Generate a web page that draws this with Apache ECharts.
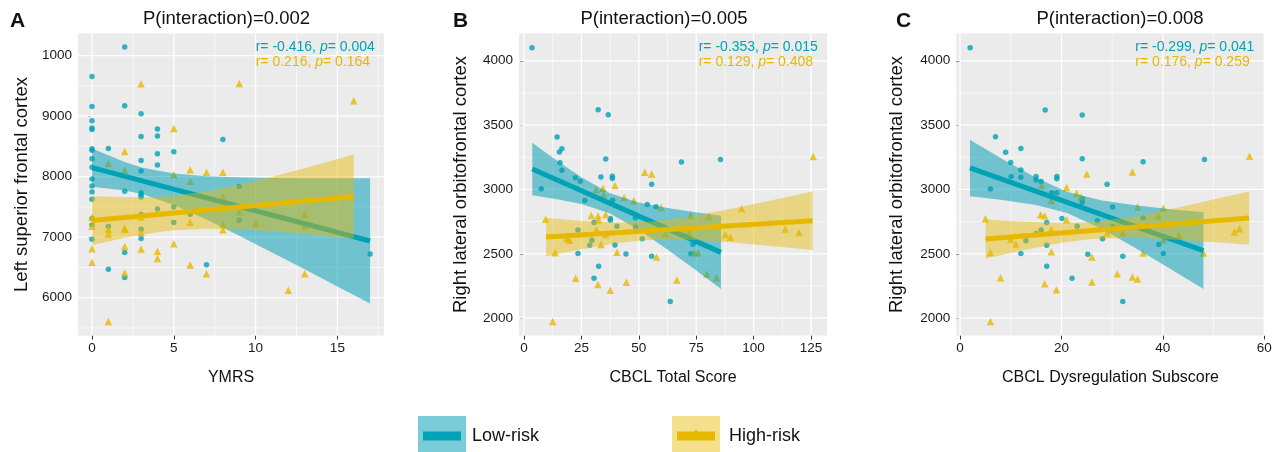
<!DOCTYPE html>
<html><head><meta charset="utf-8">
<script src="https://cdn.jsdelivr.net/npm/echarts@6/dist/echarts.min.js"></script>
<style>html,body{margin:0;padding:0;background:#fff}#c{width:1282px;height:452px}</style>
</head><body><div id="c"></div><script>
// ================= DATA =================
const panelLetters = ['A', 'B', 'C'];
const panelTitles = ['P(interaction)=0.002', 'P(interaction)=0.005', 'P(interaction)=0.008'];
const xNames = ['YMRS', 'CBCL Total Score', 'CBCL Dysregulation Subscore'];
const yNames = ['Left superior frontal cortex', 'Right lateral orbitofrontal cortex', 'Right lateral orbitofrontal cortex'];
const statLow = [['-0.416', '0.004'], ['-0.353', '0.015'], ['-0.299', '0.041']];
const statHigh = [['0.216', '0.164'], ['0.129', '0.408'], ['0.176', '0.259']];
const groupNames = ['Low-risk', 'High-risk'];

const xTicksA = [0, 5, 10, 15];
const xMinorA = [2.5, 7.5, 12.5, 17.5];
const yTicksA = [6000, 7000, 8000, 9000, 10000];
const yTickLabelsA = ['6000', '7000', '8000', '9000', '1000'];
const yMinorA = [5500, 6500, 7500, 8500, 9500];
const xTicksB = [0, 25, 50, 75, 100, 125];
const xMinorB = [12.5, 37.5, 62.5, 87.5, 112.5];
const xTicksC = [0, 20, 40, 60];
const xMinorC = [10, 30, 50];
const yTicksBC = [2000, 2500, 3000, 3500, 4000];
const yTickLabelsBC = ['2000', '2500', '3000', '3500', '4000'];
const yMinorBC = [2250, 2750, 3250, 3750];

// Panel A: YMRS vs left superior frontal cortex
const lowA = [[0,9654],[0,9159],[0,8923],[0,8802],[0,8780],[0,8462],[0,8434],[0,8297],[0,8154],[0,7962],[0,7846],[0,7747],[0,7626],[0,7310],[0,7200],[0,6964],
  [1,8463],[1,7174],[1,6471],[2,10140],[2,9170],[2,7760],[2,6747],[2,6335],
  [3,9038],[3,8662],[3,8266],[3,8093],[3,7733],[3,7700],[3,7665],[3,7375],[3,7132],[3,6978],
  [4,8786],[4,8670],[4,8379],[4,8192],[4,7467],[5,8412],[5,7500],[5,7242],
  [6,7380],[7,6544],[8,8615],[9,7835],[9,7280],[17,6720]];
const highA = [[0,7327],[0,7180],[0,6810],[0,6587],[1,8218],[1,7130],[1,7053],[1,5607],
  [2,8415],[2,8110],[2,7150],[2,7130],[2,6844],[2,6412],[3,9535],[3,7335],[3,7077],[3,6805],
  [4,6769],[4,6648],[5,8797],[5,8033],[5,6890],[6,8113],[6,7923],[6,7247],[6,6538],
  [7,8071],[7,6396],[8,8071],[8,7659],[8,7214],[8,7121],[9,9538],[9,7418],
  [10,7231],[12,6121],[13,7379],[13,7187],[13,6396],[16,9253]];
const fitLowA = [[0, 8148], [17, 6937]];
const fitHighA = [[0, 7274], [16, 7670]];
const bandLowA_x  = [0, 2, 3.1, 5, 7, 9, 11, 13, 15, 17];
const bandLowA_up = [8463, 8240, 8147, 8051, 8008, 7989, 7979, 7974, 7972, 7972];
const bandLowA_lo = [7833, 7771, 7707, 7532, 7290, 7024, 6748, 6468, 6185, 5902];
const bandHighA_x  = [0, 2, 4, 5, 7, 10, 13, 16];
const bandHighA_up = [7680, 7658, 7665, 7684, 7756, 7928, 8138, 8365];
const bandHighA_lo = [6868, 6989, 7081, 7112, 7139, 7116, 7054, 6975];

// Panel B: CBCL total vs right lateral orbitofrontal cortex
const lowB = [[3.5,4101],[7.5,3005],[14.4,3407],[15.4,3292],[15.7,3208],[16.5,3316],[16.5,3150],[22.4,3090],[24.5,3064],[26.5,2914],
  [23.5,2684],[23.5,2502],[30.5,2743],[29.6,2605],[28.6,2567],[32.3,3619],[32.5,2403],[30.5,2310],[33.5,3097],[35.6,3237],
  [36.7,3580],[37.6,2775],[37.6,2761],[38.5,3102],[38.5,3085],[38.6,2917],[39.6,2569],[40.5,2714],[44.4,2499],[48.5,2780],
  [48.6,2708],[51.5,2617],[53.7,2884],[55.6,3040],[55.6,2480],[57.5,2866],[63.7,2130],[68.6,3214],[72.7,2501],[73.6,2574],[85.6,3233]];
const highB = [[9.4,2769],[12.5,1974],[13.5,2508],[18.6,2619],[19.8,2606],[22.5,2310],[29.3,2798],[31.4,3000],[31.6,2689],[32.2,2795],
  [32.4,2764],[32.2,2261],[33.5,2572],[34.4,3010],[34.7,2961],[35.6,2806],[35.6,2650],[37.6,2217],[39.6,3030],[40.5,2512],
  [43.6,2938],[44.6,2278],[47.8,2912],[52.6,3134],[55.6,3120],[57.7,2476],[59.7,2860],[61.6,2655],[66.6,2296],[71.9,2663],
  [72.6,2798],[74.1,2508],[75.8,2508],[79.6,2342],[80.6,2790],[83.8,2313],[87.7,2650],[89.9,2629],[94.8,2852],[113.8,2692],
  [119.8,2666],[126.0,3256]];
const fitLowB = [[3.6, 3159], [85.8, 2511]];
const fitHighB = [[9.6, 2630], [125.7, 2757]];
const bandLowB_x  = [3.6, 15, 25, 37.2, 50, 62, 74, 85.8];
const bandLowB_up = [3363, 3216, 3094, 2972, 2899, 2858, 2825, 2795];
const bandLowB_lo = [2955, 2922, 2887, 2816, 2687, 2539, 2383, 2227];
const bandHighB_x  = [9.6, 25, 40, 53.6, 70, 90, 110, 125.7];
const bandHighB_up = [2779, 2757, 2744, 2748, 2782, 2848, 2923, 2984];
const bandHighB_lo = [2481, 2536, 2582, 2608, 2611, 2589, 2557, 2530];

// Panel C: CBCL dysregulation vs right lateral orbitofrontal cortex
const lowC = [[2,4101],[6,3004],[7,3410],[9,3290],[10,3209],[10.1,3100],[12,3319],[12,3152],[12,3095],[12,2502],[13,2601],
  [15,3100],[15,3074],[15,2658],[16,3061],[16,2684],[16.8,3618],[17.1,2744],[17.1,2567],[17.1,2403],[18.1,2975],
  [19.1,3100],[19.1,3084],[19.1,2975],[20.1,2775],[22.1,2309],[23.1,2715],[24.1,3579],[24.1,3238],[24.1,2926],[24.1,2900],
  [25.2,2497],[27.1,2757],[28.1,2616],[29,3040],[30.1,2863],[30.1,2710],[32.1,2481],[32.1,2130],[36.1,3215],[36.1,2778],
  [39.2,2572],[40.1,2502],[48.2,3233]];
const highC = [[5,2772],[6,2511],[6,1974],[8,2314],[10,2613],[11,2576],[15.9,2804],[16.7,2796],[16.1,3030],[18,2915],
  [18,2687],[16.7,2267],[19,2220],[18,2516],[21,3016],[21,2765],[23,2973],[23.9,2942],[25,3121],[26,2475],[26,2280],
  [29,2661],[31,2345],[32.1,2661],[34,3136],[34,2319],[35,2304],[35,2864],[36.1,2506],[39.1,2791],[40.1,2856],[40.1,2609],
  [43.1,2643],[43.1,2630],[48,2506],[54.1,2669],[55.1,2695],[57.1,3258]];
const fitLowC = [[1.97, 3167], [48, 2524]];
const fitHighC = [[5.05, 2615], [57, 2778]];
const bandLowC_x  = [1.97, 8, 15, 21.1, 28, 35, 42, 48];
const bandLowC_up = [3387, 3245, 3090, 2983, 2914, 2875, 2845, 2822];
const bandLowC_lo = [2947, 2920, 2880, 2817, 2693, 2536, 2370, 2226];
const bandHighC_x  = [5.05, 12, 20, 26.4, 34, 42, 50, 57];
const bandHighC_up = [2767, 2750, 2739, 2747, 2787, 2850, 2921, 2985];
const bandHighC_lo = [2463, 2524, 2585, 2617, 2625, 2611, 2591, 2571];

// ================= LAYOUT / STYLE =================
const TEAL = '#00A2B6', GOLD = '#E7B800';
const TEAL_BAND = 'rgba(0,160,180,0.52)', GOLD_BAND = 'rgba(231,184,0,0.45)';
const FONT = '"Liberation Sans", Arial, sans-serif';
const TOP = 33.5, HEIGHT = 302;
const layout = [
  {left: 78.1, width: 305.9, xMin: -0.85, xMax: 17.85, yMin: 5375, yMax: 10365, titleX: 226.5, letterX: 10, statX: 255.7, yGap: 46.5},
  {left: 518.95, width: 308.1, xMin: -2.2, xMax: 132, yMin: 1865, yMax: 4212, titleX: 664, letterX: 453, statX: 698.7, yGap: 48.5},
  {left: 956.2, width: 308.6, xMin: -0.75, xMax: 60.1, yMin: 1865, yMax: 4212, titleX: 1120, letterX: 896, statX: 1135.3, yGap: 50}
];
const panels = [
  {low: lowA, high: highA, fitL: fitLowA, fitH: fitHighA,
   bandL: [bandLowA_x, bandLowA_up, bandLowA_lo], bandH: [bandHighA_x, bandHighA_up, bandHighA_lo],
   xT: xTicksA, xM: xMinorA, yT: yTicksA, yL: yTickLabelsA, yM: yMinorA},
  {low: lowB, high: highB, fitL: fitLowB, fitH: fitHighB,
   bandL: [bandLowB_x, bandLowB_up, bandLowB_lo], bandH: [bandHighB_x, bandHighB_up, bandHighB_lo],
   xT: xTicksB, xM: xMinorB, yT: yTicksBC, yL: yTickLabelsBC, yM: yMinorBC},
  {low: lowC, high: highC, fitL: fitLowC, fitH: fitHighC,
   bandL: [bandLowC_x, bandLowC_up, bandLowC_lo], bandH: [bandHighC_x, bandHighC_up, bandHighC_lo],
   xT: xTicksC, xM: xMinorC, yT: yTicksBC, yL: yTickLabelsBC, yM: yMinorBC}
];

const grids = [], xAxes = [], yAxes = [], series = [], graphics = [];

function bandSeries(i, band, color, z) {
  const [bx, up, lo] = band;
  const rows = bx.map((x, k) => [x, up[k], lo[k]]);
  return {
    type: 'custom', xAxisIndex: i, yAxisIndex: i, z: z, silent: true,
    data: rows,
    renderItem: function (params, api) {
      if (params.dataIndex !== 0) return null;
      const pts = [];
      for (let k = 0; k < rows.length; k++) pts.push(api.coord([rows[k][0], rows[k][1]]));
      for (let k = rows.length - 1; k >= 0; k--) pts.push(api.coord([rows[k][0], rows[k][2]]));
      return {type: 'polygon', shape: {points: pts}, style: {fill: color, stroke: null}};
    }
  };
}

panels.forEach((p, i) => {
  const L = layout[i];
  grids.push({left: L.left, top: TOP, width: L.width, height: HEIGHT, show: true,
    backgroundColor: '#EBEBEB', borderWidth: 0, containLabel: false, outerBoundsMode: 'none'});
  xAxes.push({
    gridIndex: i, type: 'value', min: L.xMin, max: L.xMax,
    axisLine: {show: false},
    axisTick: {show: true, length: 4, customValues: p.xT, lineStyle: {color: '#333', width: 1}},
    axisLabel: {customValues: p.xT, fontSize: 13.5, fontFamily: FONT, color: '#1a1a1a', margin: 6,
      formatter: v => String(v)},
    splitLine: {show: false},
    name: xNames[i], nameLocation: 'middle', nameGap: 34, nameMoveOverlap: false,
    nameTextStyle: {fontSize: 16, fontFamily: FONT, color: '#111'}
  });
  yAxes.push({
    gridIndex: i, type: 'value', min: L.yMin, max: L.yMax,
    axisLine: {show: false},
    axisTick: {show: true, length: 4, customValues: p.yT, lineStyle: {color: '#333', width: 1}},
    axisLabel: {customValues: p.yT, fontSize: 13.5, fontFamily: FONT, color: '#1a1a1a', margin: 6,
      formatter: v => { const k = p.yT.indexOf(v); return k >= 0 ? p.yL[k] : ''; }},
    splitLine: {show: false},
    name: yNames[i], nameLocation: 'middle', nameGap: L.yGap, nameMoveOverlap: false,
    nameTextStyle: {fontSize: 18.5, fontFamily: FONT, color: '#111'}
  });
  // grid lines (major + minor) through the axes' scales
  const gl = [];
  p.xT.forEach(v => gl.push([v, 0, 1])); p.xM.forEach(v => gl.push([v, 0, 0]));
  p.yT.forEach(v => gl.push([v, 1, 1])); p.yM.forEach(v => gl.push([v, 1, 0]));
  series.push({
    type: 'custom', xAxisIndex: i, yAxisIndex: i, z: 1, silent: true,
    data: gl.map(r => [r[0], r[1], r[2]]),
    dimensions: ['v', 'o', 'm'],
    encode: {x: 'v', y: 'o'},
    renderItem: function (params, api) {
      const cs = params.coordSys;
      const v = api.value(0), o = api.value(1), maj = api.value(2);
      const lw = maj ? 1.3 : 0.6;
      if (o === 0) {
        const px = api.coord([v, L.yMin])[0];
        return {type: 'line', shape: {x1: px, y1: cs.y, x2: px, y2: cs.y + cs.height}, style: {stroke: '#fff', lineWidth: lw}};
      }
      const py = api.coord([L.xMin, v])[1];
      return {type: 'line', shape: {x1: cs.x, y1: py, x2: cs.x + cs.width, y2: py}, style: {stroke: '#fff', lineWidth: lw}};
    }
  });
  series.push({type: 'scatter', name: groupNames[0], xAxisIndex: i, yAxisIndex: i, z: 2, silent: true,
    symbol: 'circle', symbolSize: 5.5, itemStyle: {color: TEAL}, data: p.low});
  series.push({type: 'scatter', name: groupNames[1], xAxisIndex: i, yAxisIndex: i, z: 2, silent: true,
    symbol: 'triangle', symbolSize: 7.5, itemStyle: {color: GOLD}, data: p.high});
  series.push(bandSeries(i, p.bandL, TEAL_BAND, 3));
  series.push({type: 'line', xAxisIndex: i, yAxisIndex: i, z: 4, silent: true, symbol: 'none',
    lineStyle: {color: TEAL, width: 5, cap: 'butt'}, data: p.fitL});
  series.push(bandSeries(i, p.bandH, GOLD_BAND, 5));
  series.push({type: 'line', xAxisIndex: i, yAxisIndex: i, z: 6, silent: true, symbol: 'none',
    lineStyle: {color: GOLD, width: 5, cap: 'butt'}, data: p.fitH});

  // titles, letters, stats
  graphics.push({type: 'text', z: 100, x: L.titleX, y: 19, style: {text: panelTitles[i], fontSize: 18.5, fontFamily: FONT,
    fill: '#111', align: 'center', verticalAlign: 'middle'}});
  graphics.push({type: 'text', z: 100, x: L.letterX, y: 21, style: {text: panelLetters[i], fontSize: 21, fontWeight: 'bold',
    fontFamily: FONT, fill: '#111', align: 'left', verticalAlign: 'middle'}});
  const rich = {t: {fontSize: 14, fontFamily: FONT}, i: {fontSize: 14, fontFamily: FONT, fontStyle: 'italic'}};
  graphics.push({type: 'text', z: 100, x: L.statX, y: 47, style: {
    text: '{t|r= ' + statLow[i][0] + ', }{i|p}{t|= ' + statLow[i][1] + '}', rich: rich, fill: TEAL,
    align: 'left', verticalAlign: 'middle'}});
  graphics.push({type: 'text', z: 100, x: L.statX, y: 62, style: {
    text: '{t|r= ' + statHigh[i][0] + ', }{i|p}{t|= ' + statHigh[i][1] + '}', rich: rich, fill: GOLD,
    align: 'left', verticalAlign: 'middle'}});
});

// legend
const legendItems = [
  {x: 418, color: TEAL, band: TEAL_BAND, sym: 'circle', textX: 472},
  {x: 672, color: GOLD, band: GOLD_BAND, sym: 'triangle', textX: 729}
];
legendItems.forEach((it, k) => {
  graphics.push({type: 'rect', z: 100, shape: {x: it.x, y: 416, width: 48, height: 48}, style: {fill: it.band}});
  graphics.push({type: 'line', z: 101, shape: {x1: it.x + 5, y1: 436, x2: it.x + 43, y2: 436}, style: {stroke: it.color, lineWidth: 9}});
  if (it.sym === 'triangle') {
    graphics.push({type: 'polygon', z: 102, shape: {points: [[it.x + 24, 429], [it.x + 27.5, 435], [it.x + 20.5, 435]]}, style: {fill: it.color}});
  }
  graphics.push({type: 'text', z: 100, x: it.textX, y: 436, style: {text: groupNames[k], fontSize: 18, fontFamily: FONT,
    fill: '#111', align: 'left', verticalAlign: 'middle'}});
});

const chart = echarts.init(document.getElementById('c'), null, {renderer: 'canvas'});
chart.setOption({
  animation: false,
  backgroundColor: '#ffffff',
  grid: grids, xAxis: xAxes, yAxis: yAxes, series: series, graphic: graphics
});
</script></body></html>
